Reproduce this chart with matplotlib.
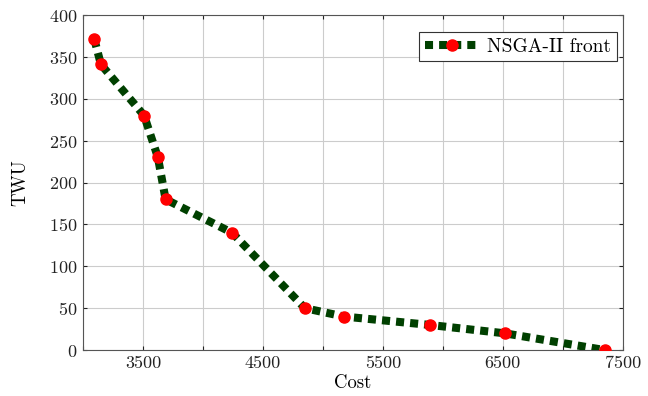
import matplotlib
matplotlib.use("Agg")
import matplotlib.pyplot as plt

cost = [3095, 3150, 3510, 3625, 3689, 4244, 4850, 5178, 5892, 6517, 7350]
twu = [371, 341, 280, 230, 180, 140, 50, 40, 30, 20, 0]
xticks = [3000, 3500, 4000, 4500, 5000, 5500, 6000, 6500, 7000, 7500]
xticklabels = ['', '3500', '', '4500', '', '5500', '', '6500', '', '7500']
yticks = [0, 50, 100, 150, 200, 250, 300, 350, 400]

plt.rcParams['font.family'] = ['cmr10', 'DejaVu Serif']
plt.rcParams['axes.formatter.use_mathtext'] = True
plt.rcParams['mathtext.fontset'] = 'cm'

fig = plt.figure(figsize=(6.48, 3.96), dpi=100)
ax = fig.add_axes([0.128, 0.116, 0.833, 0.846])

ax.plot(cost, twu, color='#004000', linestyle=(0, (1, 0.75)), linewidth=5.8,
        marker='o', markersize=8, markerfacecolor='red', markeredgecolor='red',
        label='NSGA-II front', zorder=3)

ax.set_xlim(3000, 7500)
ax.set_ylim(0, 400)
ax.set_xticks(xticks)
ax.set_xticklabels(xticklabels)
ax.set_yticks(yticks)
ax.tick_params(direction='in', top=True, right=True, length=3, width=0.8,
               labelsize=13, colors='#222222', pad=4)
ax.grid(True, color='#cccccc', linewidth=0.8)
for s in ax.spines.values():
    s.set_color('#555555')
    s.set_linewidth(0.8)
ax.set_xlabel('Cost', fontsize=13.5, labelpad=2)
ax.set_ylabel('TWU', fontsize=13.5, labelpad=14)

leg = ax.legend(loc='upper right', fontsize=14, fancybox=False, framealpha=1,
                edgecolor='#333333', handlelength=2.8, borderpad=0.3,
                handletextpad=0.4, borderaxespad=0, bbox_to_anchor=(0.99, 0.95))
leg.get_frame().set_linewidth(0.8)

fig.savefig('out.png', dpi=100)
